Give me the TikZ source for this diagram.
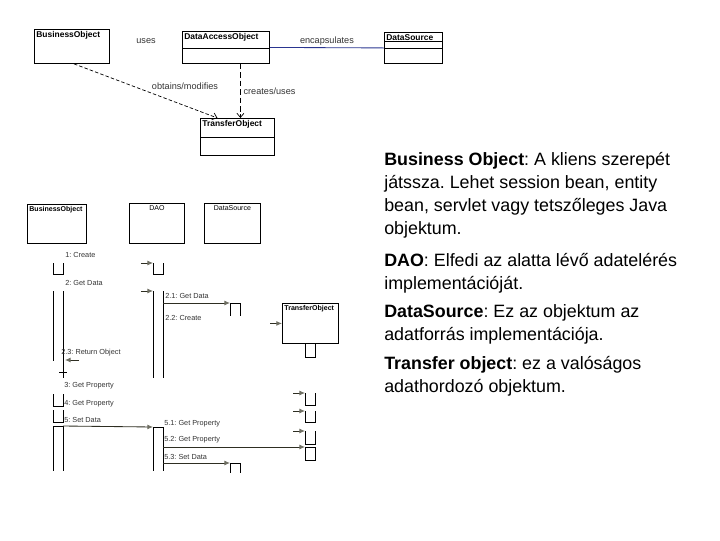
\documentclass[tikz,border=0pt]{standalone}
\usepackage{fontspec}
\setmainfont{Liberation Sans}
\usepackage{tikz}
\usetikzlibrary{positioning,arrows.meta,calc,shadows}
\usepackage{xcolor}
\definecolor{umlnavy}{HTML}{1E1E6A}
\definecolor{linkblue}{HTML}{2A3590}
\definecolor{msgdark}{HTML}{2E2E22}
\definecolor{tipgray}{HTML}{6E6E62}
\definecolor{labelgray}{HTML}{333333}
\frenchspacing

\tikzset{
  umlbox/.style={draw=black, fill=white, line width=0.6pt, inner sep=0pt, anchor=north west,
    drop shadow={shadow xshift=0.7pt, shadow yshift=-0.7pt, fill=umlnavy, opacity=1}},
  clsname/.style={font=\fontsize{6}{7}\selectfont\bfseries, inner sep=1.5pt, anchor=north west},
  seqname/.style={font=\fontsize{5}{6}\selectfont, inner sep=1.5pt},
  toplabel/.style={font=\fontsize{6.5}{7.5}\selectfont, text=labelgray, inner sep=0pt},
  msglabel/.style={font=\fontsize{5.2}{6}\selectfont, text=labelgray, anchor=west, inner sep=0pt},
  act/.style={inner sep=0pt, minimum width=0.24cm, anchor=north west},
  bar/.style={line width=0.6pt, draw=black},
  msg/.style={line width=0.6pt, draw=msgdark, -{Latex[length=4pt,width=3.5pt,color=tipgray]}},
  depend/.style={line width=0.5pt, -{Straight Barb[length=3pt,width=5pt]}},
  desc/.style={font=\fontsize{12.7}{16.3}\selectfont, align=left, anchor=base west, inner sep=0pt}
}

\begin{document}
\begin{tikzpicture}[x=0.025cm, y=-0.025cm]
\useasboundingbox (0,0) rectangle (720,540);

% class diagram
\node[umlbox, minimum width=1.875cm, minimum height=0.85cm, label={[clsname]north west:BusinessObject}] (clsBO) at (34,29) {};
\node[umlbox, minimum width=2.175cm, minimum height=0.8cm, label={[clsname]north west:DataAccessObject}] (clsDAO) at (182,31) {};
\node[umlbox, minimum width=1.45cm, minimum height=0.775cm, label={[clsname]north west:DataSource}] (clsDS) at (384,32) {};
\node[umlbox, minimum width=1.85cm, minimum height=0.925cm, label={[clsname]north west:TransferObject}] (clsTO) at (200,118) {};
\draw[bar] ([yshift=-0.425cm]clsDAO.north west) -- ([yshift=-0.425cm]clsDAO.north east);
\draw[bar] ([yshift=-0.225cm]clsDS.north west) -- ([yshift=-0.225cm]clsDS.north east);
\draw[bar] ([yshift=-0.4cm]clsDS.north west) -- ([yshift=-0.4cm]clsDS.north east);
\draw[bar] ([yshift=-0.475cm]clsTO.north west) -- ([yshift=-0.475cm]clsTO.north east);

\node[toplabel] (usesLbl) at (146,41) {uses};
\draw[linkblue, line width=0.6pt] (clsDAO.east) -- node[toplabel, above=1.5pt] (encLbl) {encapsulates} (clsDS.west);

\draw[depend, dash pattern=on 2.5pt off 1.5pt] ([xshift=0.05cm]clsBO.south) -- ([xshift=-0.5cm]clsTO.north);
\node[toplabel] (obtLbl) at (185,86) {obtains/modifies};
\coordinate (daoDep) at ([xshift=0.3625cm]clsDAO.south);
\draw[depend, dash pattern=on 4pt off 2pt] (daoDep) -- node[toplabel, right=2pt] (crLbl) {creates/uses} (daoDep |- clsTO.north);

% sequence diagram
\node[umlbox, minimum width=1.475cm, minimum height=0.975cm, label={[seqname, anchor=north west, font=\fontsize{5}{6}\selectfont\bfseries]north west:BusinessObject}] (seqBO) at (27,204) {};
\node[umlbox, minimum width=1.375cm, minimum height=1cm, label={[seqname, anchor=north]north:DAO}] (seqDAO) at (129,203) {};
\node[umlbox, minimum width=1.4cm, minimum height=1cm, label={[seqname, anchor=north]north:DataSource}] (seqDS) at (204,203) {};
\node[umlbox, minimum width=1.4cm, minimum height=1cm, label={[seqname, anchor=north west, font=\fontsize{5}{6}\selectfont\bfseries]north west:TransferObject}] (seqTO) at (282,303) {};

% activations
\node[act, minimum height=0.275cm] (boA1) at (53,263) {};
\node[act, minimum height=2.15cm] (boA2) at (53,291) {};
\node[act, minimum height=0.25cm] (boA3) at (53,372) {};
\node[act, minimum height=0.3cm] (boA4) at (53,394) {};
\node[act, minimum height=0.3cm] (boA5) at (53,410) {};
\node[act, minimum height=1.1cm] (boA6) at (53,426) {};
\node[act, minimum height=0.275cm] (daoA1) at (153,263) {};
\node[act, minimum height=2.15cm] (daoA2) at (153,291) {};
\node[act, minimum height=1.075cm] (daoA3) at (153,427) {};
\node[act, minimum height=0.3cm] (dsA1) at (230,303) {};
\node[act, minimum height=0.225cm] (dsA2) at (230,463) {};
\node[act, minimum height=0.35cm] (toA0) at (305,343) {};
\node[act, minimum height=0.3cm] (toA1) at (305,393) {};
\node[act, minimum height=0.275cm] (toA2) at (305,411) {};
\node[act, minimum height=0.325cm] (toA3) at (305,431) {};
\node[act, minimum height=0.325cm, draw, line width=0.6pt] (toA4) at (305,447) {};

\foreach \a in {boA1,boA4,boA5,daoA1,toA0,toA1,toA2,toA3}
  \draw[bar] (\a.north west) |- (\a.south east) -- (\a.north east);
\foreach \a in {boA6,daoA3,dsA1,dsA2}
  \draw[bar] (\a.south west) |- (\a.north east) -- (\a.south east);
\draw[bar] (boA2.north west) -- ([yshift=0.425cm]boA2.south west);
\draw[bar] (boA2.north east) -- (boA2.south east);
\draw[bar] (daoA2.north west) -- (daoA2.south west);
\draw[bar] (daoA2.north east) -- (daoA2.south east);
\draw[bar] ([xshift=-0.1cm]boA3.north east) -- ([xshift=0.1cm]boA3.north east);

% messages
\foreach \a in {daoA1,daoA2,toA1,toA2,toA3}
  \draw[msg] ([xshift=-0.3cm]\a.north west) -- (\a.north west);
\draw[msg] ([xshift=-0.3cm]seqTO.west) -- (seqTO.west);
\coordinate (retEnd) at (65,360);
\draw[msg] ([xshift=0.35cm]retEnd) -- (retEnd);
\draw[msg] (daoA2.east |- dsA1.north) -- (dsA1.north west);
\draw[msg] (boA6.north east) -- (daoA3.north west);
\draw[msg] (daoA3.east |- toA4.north) -- (toA4.north west);
\draw[msg] (daoA3.east |- dsA2.north) -- (dsA2.north west);

\node[msglabel] (m1) at (65,255) {1: Create};
\node[msglabel] (m2) at (65,283) {2: Get Data};
\node[msglabel] (m21) at (165,296) {2.1: Get Data};
\node[msglabel] (m22) at (165,318) {2.2: Create};
\node[msglabel] (m23) at (61,353) {2.3: Return Object};
\node[msglabel] (m3) at (64,386) {3: Get Property};
\node[msglabel] (m4) at (64,404) {4: Get Property};
\node[msglabel] (m5) at (64,420) {5: Set Data};
\node[msglabel] (m51) at (164,424) {5.1: Get Property};
\node[msglabel] (m52) at (164,440) {5.2: Get Property};
\node[msglabel] (m53) at (164,457) {5.3: Set Data};

% descriptions (anchored at the baseline of their last line)
\node[desc] (descBO) at (384,234) {\textbf{Business Object}: A kliens szerepét\\játssza. Lehet session bean, entity\\bean, servlet vagy tetszőleges Java\\objektum.};
\node[desc] (descDAO) at (384,289) {\textbf{DAO}: Elfedi az alatta lévő adatelérés\\implementációját.};
\node[desc] (descDS) at (384,340) {\textbf{DataSource}: Ez az objektum az\\adatforrás implementációja.};
\node[desc] (descTO) at (384,392) {\textbf{Transfer object}: ez a valóságos\\adathordozó objektum.};
\end{tikzpicture}
\end{document}
